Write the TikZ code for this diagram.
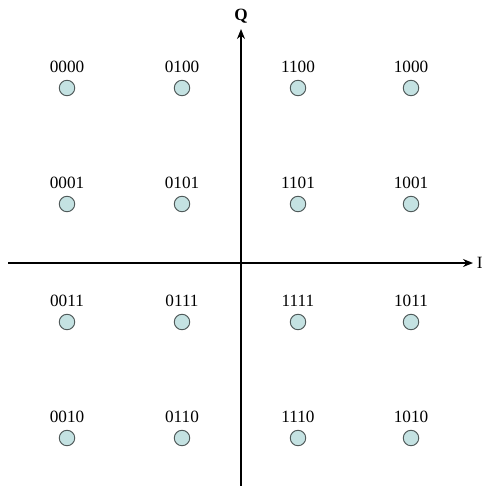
\documentclass[tikz,border=0pt]{standalone}
\usepackage{fontspec}
\setmainfont{Liberation Serif}
\usetikzlibrary{arrows.meta,positioning}
\definecolor{qamfill}{HTML}{C4E2E2}
\definecolor{qamedge}{HTML}{505A5A}

\begin{document}
\begin{tikzpicture}[x=0.02cm,y=-0.02cm,
  pt/.style={circle,draw=qamedge,fill=qamfill,line width=0.55pt,minimum size=0.31cm,inner sep=0pt},
  lbl/.style={font=\fontsize{9.8}{11}\selectfont,inner sep=0pt},
  axis/.style={line width=1.1pt,-{Stealth[length=2mm,width=1.6mm]}}]
\useasboundingbox (0,0) rectangle (486,486);
% axes
\coordinate (xs) at (8,263);
\coordinate (xe) at (473,263);
\coordinate (ys) at (241,486);
\coordinate (ye) at (241,29);
\draw[axis] (xs) -- (xe);
\draw[axis] (ys) -- (ye);
\node[font=\fontsize{9.8}{11}\selectfont\bfseries,above=2.6mm of ye,anchor=center] (qlab) {Q};
\node[lbl,right=2pt of xe] (ilab) {I};
% constellation points
\foreach \code/\cx/\cy in {0000/67/88,0100/182/88,1100/298/88,1000/411/88,
  0001/67/204,0101/182/204,1101/298/204,1001/411/204,
  0011/67/322,0111/182/322,1111/298/322,1011/411/322,
  0010/67/438,0110/182/438,1110/298/438,1010/411/438}{
  \node[pt] (p\code) at (\cx,\cy) {};
  \node[lbl,above=4pt of p\code] (t\code) {\code};
}
\end{tikzpicture}
\end{document}
